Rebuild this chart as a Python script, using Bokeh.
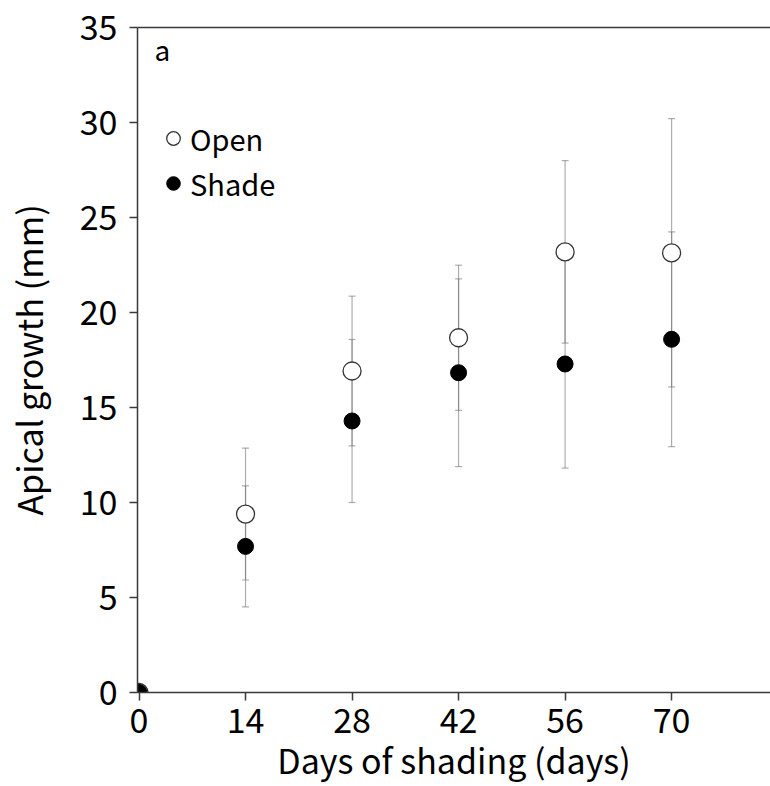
from bokeh.plotting import figure
from bokeh.models import (ColumnDataSource, Whisker, TeeHead, LinearAxis, Range1d,
                          FixedTicker, Legend, LegendItem, Label)
from bokeh.embed import file_html
from bokeh.resources import INLINE

# Apical growth (mm) after days of shading
days = [0, 14, 28, 42, 56, 70]
open_mean = [0, 9.39, 16.92, 18.67, 23.19, 23.14]
open_err = [0, 3.47, 3.94, 3.82, 4.80, 7.06]
shade_mean = [0, 7.69, 14.29, 16.83, 17.29, 18.59]
shade_err = [0, 3.18, 4.29, 4.94, 5.48, 5.65]
x_ticks = [0, 14, 28, 42, 56, 70]
y_ticks = [0, 5, 10, 15, 20, 25, 30, 35]

FONT = "Noto Sans CJK JP"

def series(mean, err):
    return ColumnDataSource(dict(
        x=days, y=mean,
        upper=[m + e for m, e in zip(mean, err)],
        lower=[m - e for m, e in zip(mean, err)],
    ))

src_open = series(open_mean, open_err)
src_shade = series(shade_mean, shade_err)

p = figure(width=770, height=786, output_backend="svg", toolbar_location=None,
           x_range=Range1d(-0.2, 83), y_range=Range1d(0, 35),
           min_border_left=134, min_border_right=0, min_border_top=27,
           min_border_bottom=93, x_axis_type=None, y_axis_type=None)
p.outline_line_color = None
p.grid.visible = False
p.background_fill_color = "white"
p.border_fill_color = "white"

def style_axis(ax, label):
    ax.axis_line_color = "#3a3a3a"
    ax.axis_line_width = 1.5
    ax.major_tick_line_color = "#3a3a3a"
    ax.major_tick_line_width = 1.5
    ax.major_tick_out = 8
    ax.major_tick_in = 0
    ax.minor_tick_line_color = None
    ax.major_label_text_font = FONT
    ax.major_label_text_font_size = "34px"
    ax.major_label_text_color = "black"
    ax.axis_label = label
    ax.axis_label_text_font = FONT
    ax.axis_label_text_font_size = "34px"
    ax.axis_label_text_font_style = "normal"
    ax.axis_label_text_color = "black"

xaxis = LinearAxis(ticker=FixedTicker(ticks=x_ticks))
style_axis(xaxis, "Days of shading (days)")
xaxis.major_label_standoff = 7
xaxis.axis_label_standoff = -1
p.add_layout(xaxis, "below")

yaxis = LinearAxis(ticker=FixedTicker(ticks=y_ticks))
style_axis(yaxis, "Apical growth (mm)")
yaxis.major_label_standoff = 12
yaxis.axis_label_standoff = 24
p.add_layout(yaxis, "left")

# plain top border line
top = LinearAxis(ticker=FixedTicker(ticks=[]), major_label_text_font_size="0px")
top.axis_line_color = "#3a3a3a"
top.axis_line_width = 1.5
top.major_tick_line_color = None
top.minor_tick_line_color = None
p.add_layout(top, "above")

# error bars
for src in (src_open, src_shade):
    w = Whisker(source=src, base="x", upper="upper", lower="lower",
                line_color="#777777", line_alpha=0.6, line_width=1.2,
                upper_head=TeeHead(size=7, line_color="#777777", line_alpha=0.6, line_width=1.2),
                lower_head=TeeHead(size=7, line_color="#777777", line_alpha=0.6, line_width=1.2))
    p.add_layout(w)

r_open = p.scatter("x", "y", source=src_open, size=18, marker="circle",
                   fill_color="white", line_color="#333333", line_width=1.3)
r_shade = p.scatter("x", "y", source=src_shade, size=16, marker="circle",
                    fill_color="black", line_color="black", line_width=1)

legend = Legend(items=[LegendItem(label="Open", renderers=[r_open]),
                       LegendItem(label="Shade", renderers=[r_shade])],
                location=(19, 488))
legend.label_text_font = FONT
legend.label_text_font_size = "29px"
legend.label_text_color = "black"
legend.glyph_width = 34
legend.glyph_height = 38
legend.label_standoff = 0
legend.spacing = 3
legend.padding = 0
legend.margin = 0
legend.border_line_color = None
legend.background_fill_alpha = 0
p.add_layout(legend, "center")

p.add_layout(Label(x=17, y=624, x_units="screen", y_units="screen", text="a",
                   text_font=FONT, text_font_size="28px", text_color="black"))

open("out.html", "w").write(file_html(p, INLINE))
